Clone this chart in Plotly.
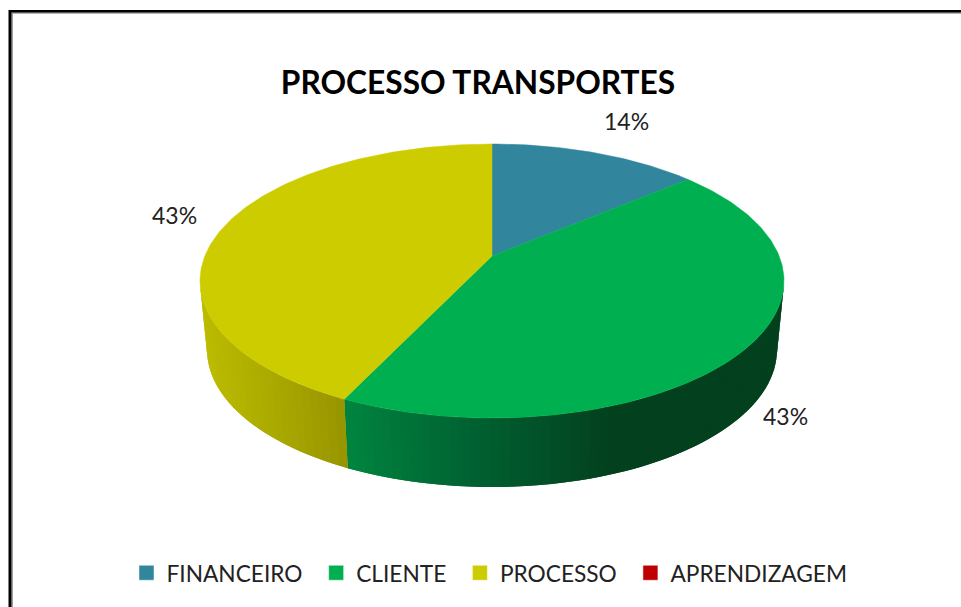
import math
import plotly.graph_objects as go

# ---- data ----
CATEGORIES = ["FINANCEIRO", "CLIENTE", "PROCESSO", "APRENDIZAGEM"]
VALUES = [1, 3, 3, 0]
TITLE = "PROCESSO TRANSPORTES"

# ---- style ----
COLORS = ["#31859C", "#00B050", "#CCCC00", "#C00000"]
WALL_STOPS = {
    "CLIENTE": [(345, (0, 132, 62)), (480, (0, 95, 48)), (610, (3, 65, 30)), (790, (3, 65, 30))],
    "PROCESSO": [(200, (188, 188, 0)), (349, (150, 148, 0))],
}
LABEL_SHIFT = {"FINANCEIRO": (31, 32), "CLIENTE": (35, -71), "PROCESSO": (-47, 14)}
W, H = 961, 607
CX, TOP_CY, RX, RY = 492, 281, 292, 137
BOT_CY, BOT_RX, BOT_RY = 350, 285, 137
APEX_Y = 256
K_RIGHT, K_LEFT = 0.80, 0.84  # perspective squeeze of angles
FONT = "Lato, Carlito, Calibri, sans-serif"
LEGEND_PAD = "\u00a0\u2009"


def persp(theta):
    """true pie angle (degrees clockwise from top) -> parametric ellipse angle, radians."""
    h = math.radians(theta) / 2
    if abs(math.cos(h)) < 1e-9:
        return math.radians(theta)
    if theta > 180:
        return 2 * math.atan(K_LEFT * math.tan(h)) + 2 * math.pi
    return 2 * math.atan(K_RIGHT * math.tan(h))


def top_pt(t):
    return CX + RX * math.sin(t), TOP_CY - RY * math.cos(t)


def bot_pt(t):
    return CX + BOT_RX * math.sin(t), BOT_CY - BOT_RY * math.cos(t)


def lerp_color(stops, x):
    if x <= stops[0][0]:
        c = stops[0][1]
    elif x >= stops[-1][0]:
        c = stops[-1][1]
    else:
        for (x0, c0), (x1, c1) in zip(stops, stops[1:]):
            if x0 <= x <= x1:
                f = (x - x0) / (x1 - x0)
                c = tuple(c0[i] + f * (c1[i] - c0[i]) for i in range(3))
                break
    return "rgb(%d,%d,%d)" % tuple(round(v) for v in c)


total = sum(VALUES)
fig = go.Figure()

# slice angles
slices = []
acc = 0.0
for name, v, col in zip(CATEGORIES, VALUES, COLORS):
    a0 = acc / total * 360
    acc += v
    a1 = acc / total * 360
    slices.append((name, v, col, a0, a1))

# side wall: overlapping strips, each painted over the previous, so no seams show
for name, v, col, a0, a1 in slices:
    if name not in WALL_STOPS or v == 0:
        continue
    t0, t1 = persp(a0), persp(a1)
    lo, hi = max(t0, math.pi / 2), min(t1, 3 * math.pi / 2)
    n = max(2, int(math.degrees(hi - lo) / 2))
    step = (hi - lo) / n
    order = range(n) if name == "CLIENTE" else range(n - 1, -1, -1)
    for i in order:
        s0 = lo + step * i
        s1 = s0 + step
        # extend under the neighbour that is painted next
        if name == "CLIENTE":
            e0, e1 = s0, min(hi, s1 + step)
        else:
            e0, e1 = max(lo, s0 - step), s1
        p = [top_pt(e0), top_pt(e1), bot_pt(e1), bot_pt(e0), top_pt(e0)]
        c = lerp_color(WALL_STOPS[name], top_pt((s0 + s1) / 2)[0])
        fig.add_trace(go.Scatter(
            x=[q[0] for q in p], y=[q[1] for q in p], mode="lines", fill="toself",
            fillcolor=c, line=dict(width=0), hoverinfo="skip", showlegend=False))

# top face
for name, v, col, a0, a1 in slices:
    if v == 0:
        continue
    n = max(4, int(a1 - a0))
    arc = [top_pt(persp(a0 + (a1 - a0) * i / n)) for i in range(n + 1)]
    xs = [CX] + [q[0] for q in arc] + [CX]
    ys = [APEX_Y] + [q[1] for q in arc] + [APEX_Y]
    fig.add_trace(go.Scatter(
        x=xs, y=ys, mode="lines", fill="toself", fillcolor=col,
        line=dict(color=col, width=0.5), name=name, hoverinfo="name", showlegend=False))

# legend entries
for name, col in zip(CATEGORIES, COLORS):
    fig.add_trace(go.Scatter(
        x=[None], y=[None], mode="markers", name=name + LEGEND_PAD,
        marker=dict(symbol="square", size=15, color=col, line=dict(color="rgba(255,255,255,0.5)", width=1))))

# percentage labels
annotations = []
for name, v, col, a0, a1 in slices:
    if v == 0:
        continue
    x, y = top_pt(persp((a0 + a1) / 2))
    sx, sy = LABEL_SHIFT[name]
    annotations.append(dict(
        x=x, y=y, xref="x", yref="y", text="%d%%" % round(v / total * 100), showarrow=False,
        xshift=sx, yshift=sy, font=dict(family=FONT, size=23, color="#222222")))

shapes = [
    dict(type="line", xref="x", yref="y", x0=12.2, x1=W, y0=13, y1=13, line=dict(color="#999999", width=1.5), layer="below"),
    dict(type="line", xref="x", yref="y", x0=12.2, x1=12.2, y0=13, y1=H, line=dict(color="#999999", width=1.5), layer="below"),
    dict(type="line", xref="x", yref="y", x0=9, x1=W, y0=11.2, y1=11.2, line=dict(color="black", width=2.6), layer="below"),
    dict(type="line", xref="x", yref="y", x0=10, x1=10, y0=10, y1=H, line=dict(color="black", width=3), layer="below"),
]

fig.update_layout(
    width=W, height=H, margin=dict(l=0, r=0, t=0, b=0),
    paper_bgcolor="white", plot_bgcolor="white",
    xaxis=dict(range=[0, W], visible=False, fixedrange=True),
    yaxis=dict(range=[H, 0], visible=False, fixedrange=True),
    title=dict(text=TITLE, x=478 / W, xanchor="center", y=1 - 83 / H, yanchor="middle",
               font=dict(family=FONT, size=31.7, color="black", weight="bold")),
    legend=dict(orientation="h", x=494 / W, xanchor="center", y=1 - 573 / H, yanchor="middle",
                font=dict(family=FONT, size=22.7, color="#222222"), bgcolor="rgba(0,0,0,0)",
                itemclick=False, itemdoubleclick=False),
    annotations=annotations, shapes=shapes, showlegend=True,
)

fig.write_html("out.html", config={"displayModeBar": False},
               post_script="document.body.style.margin='0';document.body.style.overflow='hidden';")
